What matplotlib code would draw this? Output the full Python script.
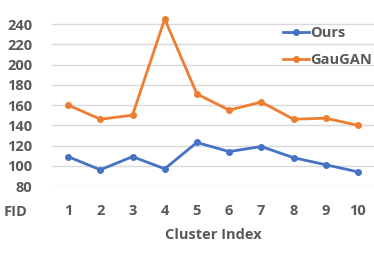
import matplotlib
matplotlib.use("Agg")
import matplotlib.pyplot as plt

clusters = [1, 2, 3, 4, 5, 6, 7, 8, 9, 10]
ours = [109, 96, 109, 97, 123, 114, 119, 108, 101, 94]
gaugan = [160, 146, 150, 245, 171, 155, 163, 146, 147, 140]
yticks = [80, 100, 120, 140, 160, 180, 200, 220, 240]

plt.rcParams['font.family'] = ['Open Sans', 'DejaVu Sans']
txt = '#595959'

fig = plt.figure(figsize=(3.74, 2.60), dpi=100)
ax = fig.add_axes([52/374, 1-186/260, 1-52/374, 172/260])

ax.plot(clusters, ours, color='#4472C4', lw=2, marker='o', ms=4, label='Ours')
ax.plot(clusters, gaugan, color='#ED7D31', lw=2, marker='o', ms=4, label='GauGAN')

ax.set_xlim(0.5, 10.5)
ax.set_ylim(80, 250)
ax.set_yticks(yticks)
ax.set_xticks(clusters)
ax.grid(axis='y', color='#D9D9D9', lw=1)
ax.set_axisbelow(True)
for s in ax.spines.values():
    s.set_visible(False)
ax.tick_params(length=0, labelsize=10.5, colors=txt)
ax.tick_params(axis='x', pad=13)
ax.tick_params(axis='y', pad=14)
for lab in ax.get_xticklabels() + ax.get_yticklabels():
    lab.set_fontweight('bold')

ax.set_xlabel('Cluster Index', fontsize=10.5, color=txt, fontweight='bold', labelpad=7)
fig.text(4/374, 1-212/260, 'FID', fontsize=10.5, color=txt, fontweight='bold', va='center', ha='left')

leg = ax.legend(loc='upper right', bbox_to_anchor=(1.035, 1.005), frameon=False,
                fontsize=10.5, handlelength=1.8, handletextpad=0.1, labelspacing=0.9)
for t in leg.get_texts():
    t.set_color(txt)
    t.set_fontweight('bold')

fig.savefig('out.png', dpi=100)
